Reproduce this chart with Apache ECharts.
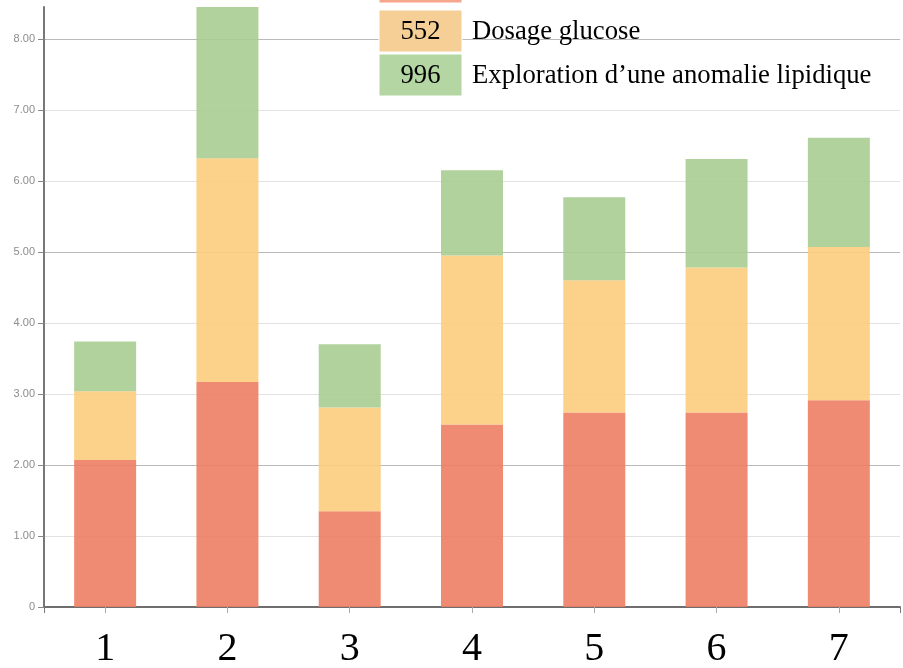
<!DOCTYPE html>
<html>
<head>
<meta charset="utf-8">
<script src="https://cdn.jsdelivr.net/npm/echarts@6/dist/echarts.min.js"></script>
<style>
  html, body { margin: 0; padding: 0; background: #fff; }
  #chart { width: 903px; height: 668px; }
</style>
</head>
<body>
<div id="chart"></div>
<script>
// Categories along the x axis
const categories = ['1', '2', '3', '4', '5', '6', '7'];

// Stacked segments, bottom to top
const seriesNames = ['Série A', 'Dosage glucose', 'Exploration d’une anomalie lipidique'];
const seriesCodes = ['', '552', '996'];
const baseValues    = [2.07, 3.17, 1.35, 2.57, 2.74, 2.74, 2.91];
const glucoseValues = [0.97, 3.15, 1.46, 2.38, 1.86, 2.04, 2.16];
const lipidValues   = [0.70, 2.13, 0.89, 1.20, 1.17, 1.53, 1.54];

// Y tick values that carry a label
const yTickValues = [0, 1, 2, 3, 4, 5, 6, 7, 8];

const seriesValues = [baseValues, glucoseValues, lipidValues];
const barColors = ['#ee7e64', '#fccd7d', '#a8cd92'];
const legendColors = ['#f5a68d', '#f6cf96', '#b3d6a3'];

const totals = categories.map((_, i) => seriesValues.reduce((s, arr) => s + arr[i], 0));
const yMax = Math.round(Math.max(...totals) * 100) / 100;

// Grid lines fall on different sub-pixel offsets; some look crisp, some soft
const gridLineColors = yTickValues.slice(1).map(v => (v % 3 === 2 ? '#b9b9b9' : '#e2e2e2'));

const chart = echarts.init(document.getElementById('chart'), null, { renderer: 'canvas' });

const serifFont = '26.7px "Liberation Serif", "Times New Roman", serif';

// Legend rows: coloured code box + label
const legendGraphics = [];
seriesNames.forEach((name, i) => {
  const top = i === 0 ? -39 : 10 + (i - 1) * 44;
  const boxX = 379, boxW = 83, boxH = 42;
  legendGraphics.push({
    type: 'rect',
    x: boxX, y: top,
    shape: { x: 0, y: 0, width: boxW, height: boxH },
    style: { fill: legendColors[i], stroke: '#ffffff', lineWidth: 1 },
    z: 100
  });
  if (i > 0) {
    legendGraphics.push({
      type: 'text',
      x: boxX + boxW / 2, y: top + boxH / 2 + 1,
      style: {
        text: seriesCodes[i],
        fill: '#000', font: serifFont,
        align: 'center', verticalAlign: 'middle'
      },
      z: 101
    });
    legendGraphics.push({
      type: 'text',
      x: 472, y: top + boxH / 2 + 1,
      style: {
        text: name,
        fill: '#000', font: serifFont,
        align: 'left', verticalAlign: 'middle'
      },
      z: 101
    });
  }
});

const option = {
  animation: false,
  backgroundColor: '#ffffff',
  grid: { left: 44, right: 3, top: 7, bottom: 61, containLabel: false, outerBoundsMode: 'none' },
  xAxis: [
    {
      type: 'category',
      data: categories,
      boundaryGap: true,
      axisLine: { show: true, lineStyle: { color: '#6e6e6e', width: 2 } },
      axisTick: { show: true, alignWithLabel: true, length: 6, lineStyle: { color: '#aaaaaa' } },
      axisLabel: {
        color: '#000',
        fontFamily: '"Liberation Serif", "Times New Roman", serif',
        fontSize: 40,
        margin: 22
      },
      splitLine: { show: false }
    },
    {
      // outer end ticks of the x axis
      type: 'value',
      position: 'bottom',
      min: 0, max: 7, interval: 7,
      axisLine: { show: false },
      axisTick: { show: true, length: 6, lineStyle: { color: '#777' } },
      axisLabel: { show: false },
      splitLine: { show: false }
    }
  ],
  yAxis: {
    type: 'value',
    min: 0,
    max: yMax,
    interval: 1,
    axisLine: { show: true, lineStyle: { color: '#777', width: 2 } },
    axisTick: { show: true, length: 6, lineStyle: { color: '#888' } },
    axisLabel: {
      color: '#8c8c8c',
      fontFamily: '"Liberation Sans", Arial, sans-serif',
      fontSize: 11,
      margin: 9,
      formatter: v => (yTickValues.indexOf(v) < 0 ? '' : (v === 0 ? '0' : v.toFixed(2))),
      showMaxLabel: false
    },
    splitLine: {
      show: true,
      showMinLine: false,
      showMaxLine: false,
      lineStyle: { color: gridLineColors, width: 1 }
    }
  },
  series: seriesNames.map((name, i) => ({
    name: name,
    type: 'bar',
    stack: 'total',
    xAxisIndex: 0,
    barWidth: 62,
    data: seriesValues[i],
    itemStyle: {
      color: barColors[i],
      opacity: 0.9
    },
    emphasis: { disabled: true }
  })),
  graphic: legendGraphics
};

chart.setOption(option);
</script>
</body>
</html>
